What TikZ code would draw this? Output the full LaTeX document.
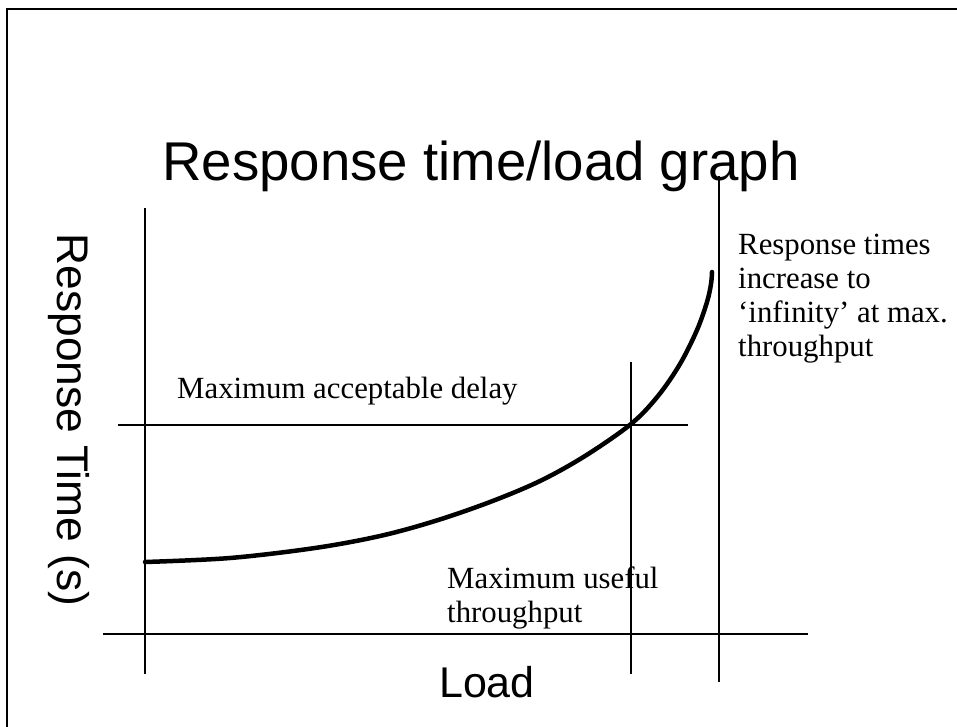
\documentclass[tikz,border=0pt]{standalone}
\usepackage{fontspec}
\setmainfont{Liberation Serif}
\newfontfamily\arialfont{Liberation Sans}
\begin{document}
\begin{tikzpicture}[x=1pt,y=-1pt,
  guide/.style={line width=1.3pt},
  frameline/.style={line width=2.6pt},
  curveline/.style={line width=4.5pt,line cap=round,line join=round},
  headtext/.style={font=\arialfont\fontsize{54.6}{60}\selectfont,inner sep=0pt,anchor=base},
  axistext/.style={font=\arialfont\fontsize{43}{48}\selectfont,inner sep=0pt,anchor=base},
  notetext/.style={font=\fontsize{30.8}{34}\selectfont,inner sep=0pt,anchor=base west,align=left}]
\useasboundingbox (0,0) rectangle (957,727);

% slide frame
\draw[frameline] (7,740) -- (7,9) -- (970,9);

% axes and guide lines
\coordinate (yaxisT) at (145,208);
\coordinate (yaxisB) at (145,674);
\coordinate (xaxisL) at (103,634);
\coordinate (xaxisR) at (808,634);
\coordinate (delayL) at (118,425);
\coordinate (delayR) at (688,425);
\coordinate (usefulT) at (631,362);
\coordinate (usefulB) at (631,674);
\coordinate (maxT) at (719,176);
\coordinate (maxB) at (719,682);
\draw[guide] (yaxisT) -- (yaxisB);
\draw[guide] (xaxisL) -- (xaxisR);
\draw[guide] (delayL) -- (delayR);
\draw[guide] (usefulT) -- (usefulB);
\draw[guide] (maxT) -- (maxB);

% response time curve
\draw[curveline] plot[smooth,tension=0.55] coordinates {
  (145,562) (230,558) (315,548) (380,536) (435,521) (490,502) (540,481)
  (585,456) (631,424) (658,396) (680,364) (697,330) (707,302) (711,284) (712,272)};

% texts (multi-line notes are placed by the baseline of their last line;
% the y axis points down here, so rotate=-90 turns the label clockwise)
\node[headtext] (title) at (481,181) {Response time/load graph};
\node[axistext] (xlabel) at (487,697) {Load};
\node[axistext,rotate=-90,font=\arialfont\fontsize{44.3}{48}\selectfont] (ylabel) at (57,420) {Response Time (s)};
\node[notetext] (delay) at (177,398) {Maximum acceptable delay};
\node[notetext] (useful) at (447,622) {Maximum useful\\throughput};
\node[notetext] (infinity) at (738,356) {Response times\\increase to\\‘infinity’ at max.\\throughput};
\end{tikzpicture}
\end{document}
